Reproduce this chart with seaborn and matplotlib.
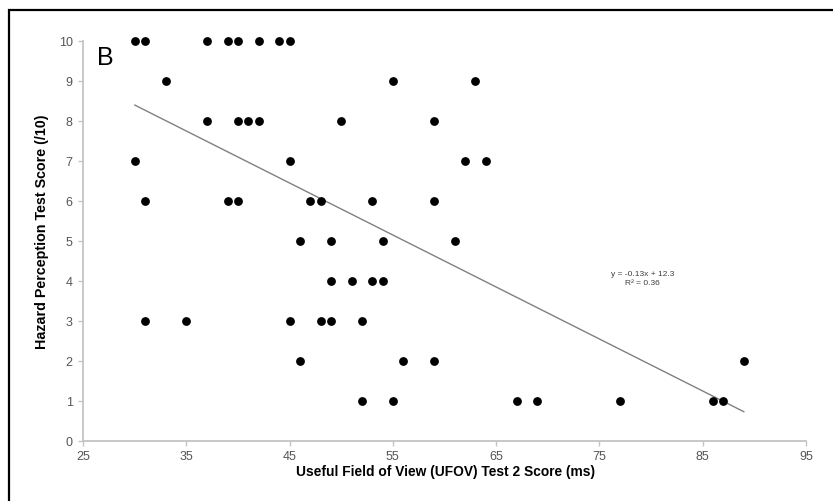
import numpy as np
import pandas as pd
import matplotlib
matplotlib.use("Agg")
import matplotlib.pyplot as plt
from matplotlib.patches import Rectangle
import seaborn as sns

# UFOV Test 2 scores (ms) and hazard perception scores (/10), grouped by score
ufov_ms = [
    30, 31, 37, 39, 40, 42, 44, 45,      # score 10
    33, 55, 63,                          # score 9
    37, 40, 41, 42, 50, 59,              # score 8
    30, 45, 62, 64,                      # score 7
    31, 39, 40, 47, 48, 53, 59,          # score 6
    46, 49, 54, 61,                      # score 5
    49, 51, 53, 54,                      # score 4
    31, 35, 45, 48, 49, 52,              # score 3
    46, 56, 59, 89,                      # score 2
    52, 55, 67, 69, 77, 86, 87,          # score 1
]
hazard_score = (
    [10] * 8 + [9] * 3 + [8] * 6 + [7] * 4 + [6] * 7
    + [5] * 4 + [4] * 4 + [3] * 6 + [2] * 4 + [1] * 7
)

# Linear trendline as reported on the chart
SLOPE = -0.13
INTERCEPT = 12.3
R_SQUARED = 0.36

x_ticks = [25, 35, 45, 55, 65, 75, 85, 95]
y_ticks = list(range(0, 11))

x_label = "Useful Field of View (UFOV) Test 2 Score (ms)"
y_label = "Hazard Perception Test Score (/10)"
panel_letter = "B"

df = pd.DataFrame({"ufov": ufov_ms, "hpt": hazard_score})

sns.set_theme(style="white")
plt.rcParams["font.family"] = ["Liberation Sans", "DejaVu Sans"]

W, H = 833, 501
fig = plt.figure(figsize=(W / 100, H / 100), dpi=100)
ax = fig.add_axes([83 / W, 1 - 441 / H, (806 - 83) / W, 400 / H])

sns.scatterplot(data=df, x="ufov", y="hpt", color="black", s=40,
                linewidth=0, ax=ax, zorder=3, clip_on=False)

fit_x = np.array([df["ufov"].min(), df["ufov"].max()], dtype=float)
fit_y = SLOPE * fit_x + INTERCEPT
sns.lineplot(x=fit_x, y=fit_y, color="#808080", linewidth=1.0, ax=ax, zorder=2)

ax.set_xlim(25, 95)
ax.set_ylim(0, 10)
ax.set_xticks(x_ticks)
ax.set_yticks(y_ticks)
ax.set_xlabel("")
ax.set_ylabel("")

for side in ("top", "right"):
    ax.spines[side].set_visible(False)
for side in ("left", "bottom"):
    ax.spines[side].set_color("#c4c4c4")
    ax.spines[side].set_linewidth(1.3)

ax.tick_params(axis="both", which="major", bottom=True, left=True,
               direction="out", length=3.5, width=1.0, color="#c4c4c4",
               labelcolor="#555555", labelsize=9, pad=4)

fig.text(445 / W, 1 - 472 / H, x_label, ha="center", va="center",
         fontsize=9.9, fontweight="bold", color="black")
fig.text(42 / W, 1 - 232 / H, y_label, ha="center", va="center",
         rotation=90, fontsize=10.3, fontweight="bold", color="black")

ax.text(26.4, 9.4, panel_letter, ha="left", va="baseline",
        fontsize=18, color="black")

ax.text(79.2, 4.05,
        f"y = {SLOPE:.2f}x + {INTERCEPT}\nR\u00b2 = {R_SQUARED:.2f}",
        ha="center", va="center", fontsize=6, color="#404040",
        multialignment="center", linespacing=1.3)

# outer frame around the figure
fig.patches.append(Rectangle((9 / W, -0.1), 1.2, 1 - 10 / H + 0.1,
                             transform=fig.transFigure, fill=False,
                             edgecolor="black", linewidth=1.6))

fig.savefig("out.png", dpi=100)
